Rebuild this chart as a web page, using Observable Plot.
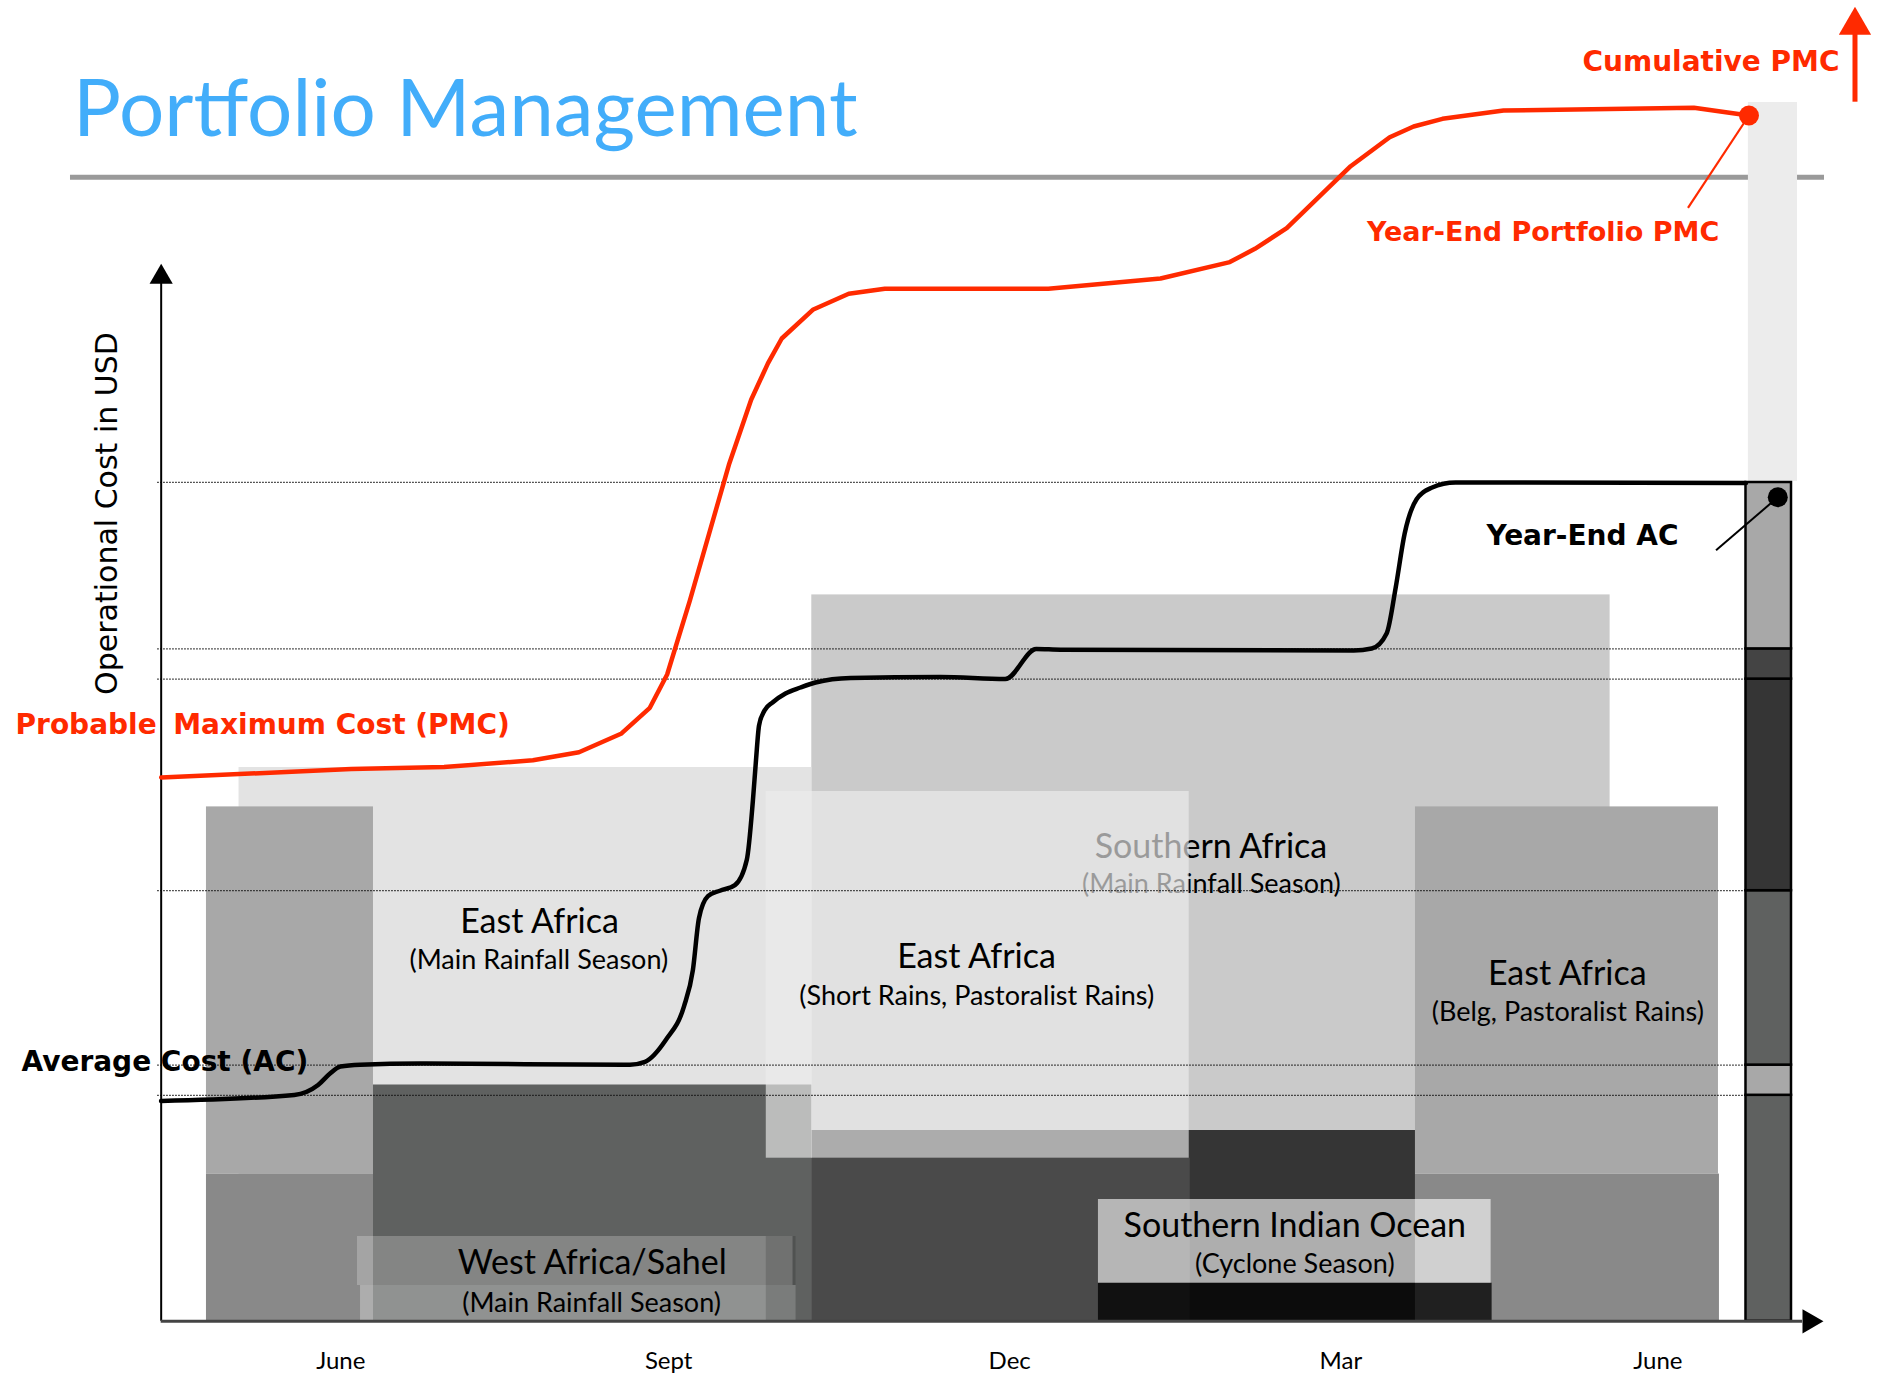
<!DOCTYPE html>
<html><head><meta charset="utf-8">
<script src="https://cdn.jsdelivr.net/npm/d3@7"></script>
<script src="https://cdn.jsdelivr.net/npm/@observablehq/plot@0.6"></script>
<style>
html,body{margin:0;padding:0;background:#fff;}
#wrap{position:relative;width:1879px;height:1377px;overflow:hidden;}
#wrap svg{position:absolute;left:0;top:0;}
#title{position:absolute;left:73px;top:57px;margin:0;font-family:Lato,sans-serif;font-weight:400;font-size:80px;line-height:normal;color:#42adfa;white-space:nowrap;}
</style></head><body>
<div id="wrap"><h1 id="title">Portfolio Management</h1></div>
<script>
// x: months since June (season year), y: operational cost (relative units, axis origin = 0)
const tickMonths = [0, 2.99, 6.1, 9.12, 12.01];
const tickLabels = ["June", "Sept", "Dec", "Mar", "June"];

// Probable Maximum Cost (cumulative)
const pmcMonth = [-1.638, 0.095, 0.942, 1.752, 2.172, 2.555, 2.818, 2.976, 3.183, 3.539, 3.742, 3.895, 4.021, 4.304, 4.632, 4.961, 6.452, 7.475, 8.107, 8.336, 8.626, 9.209, 9.565, 9.783, 10.046, 10.603, 12.339, 12.841];
const pmcCost  = [54.38, 55.22, 55.42, 56.10, 56.91, 58.75, 61.35, 64.68, 72.06, 85.65, 92.15, 95.79, 98.28, 101.15, 102.76, 103.25, 103.25, 104.28, 105.92, 107.25, 109.31, 115.51, 118.41, 119.48, 120.25, 121.08, 121.35, 120.58];

// Average Cost (cumulative)
const acMonth = [-1.639, -0.424, -0.207, -0.098, -0.003, 0.177, 0.724, 2.637, 2.774, 2.965, 3.129, 3.211, 3.266, 3.348, 3.457, 3.594, 3.703, 3.758, 3.786, 3.814, 3.864, 3.937, 4.055, 4.192, 4.329, 4.648, 5.469, 6.059, 6.342, 6.563, 9.237, 9.401, 9.538, 9.620, 9.701, 9.810, 9.947, 10.165, 12.814];
const acCost  = [22.03, 22.64, 23.63, 24.78, 25.48, 25.66, 25.77, 25.66, 25.95, 28.16, 31.47, 35.15, 40.30, 42.51, 43.06, 43.62, 46.19, 52.08, 56.08, 59.58, 61.08, 61.88, 62.78, 63.38, 63.88, 64.33, 64.43, 64.22, 67.23, 67.16, 67.08, 67.28, 68.81, 73.40, 78.76, 82.20, 83.35, 83.88, 83.83];

// AC plateau levels (dotted reference lines)
const acLevels = [83.89, 67.24, 64.22, 43.06, 25.62, 22.60];
const levelSpan = [-1.669, 12.814];

// Seasonal blocks, back to front
const seasonBlocks = [
  {name: "Southern Africa (Main Rainfall Season)", x1: 4.295, x2: 11.575, y1: 19.08, y2: 72.64, tone: "sa"},
  {name: "Southern Africa base", x1: 4.295, x2: 9.800, y1: 0, y2: 19.08, tone: "saBase"},
  {name: "East Africa (Main Rainfall Season)", x1: -0.928, x2: 4.295, y1: 0, y2: 55.38, tone: "eaMain"},
  {name: "East Africa (Belg) early", x1: -1.225, x2: 0.298, y1: 14.72, y2: 51.44, tone: "belg"},
  {name: "East Africa (Belg) early base", x1: -1.225, x2: 0.298, y1: 0, y2: 14.72, tone: "belgBase"},
  {name: "East Africa (Belg) late", x1: 9.800, x2: 12.563, y1: 14.72, y2: 51.44, tone: "belg"},
  {name: "East Africa (Belg) late base", x1: 9.800, x2: 12.572, y1: 0, y2: 14.72, tone: "belgBase"},
  {name: "West Africa/Sahel", x1: 0.298, x2: 4.295, y1: 0, y2: 23.63, tone: "wa"},
  {name: "East Africa short rains base", x1: 4.295, x2: 7.746, y1: 0, y2: 16.31, tone: "srBase"}
];
// Translucent layers drawn over the blocks
const overlayBlocks = [
  {name: "East Africa (Short Rains)", x1: 3.880, x2: 7.737, y1: 16.31, y2: 52.98, tone: "srVeil"},
  {name: "Cyclone band", x1: 6.909, x2: 10.499, y1: 0, y2: 3.81, tone: "cyclone"},
  {name: "Cyclone label", x1: 6.909, x2: 10.490, y1: 3.81, y2: 12.18, tone: "labelBox"},
  {name: "Sahel label top", x1: 0.152, x2: 4.124, y1: 3.58, y2: 8.48, tone: "waBox1"},
  {name: "Sahel label bottom", x1: 0.180, x2: 4.151, y1: 0, y2: 3.58, tone: "waBox2"},
  {name: "Sahel label shade", x1: 3.880, x2: 4.151, y1: 0, y2: 8.48, tone: "shade"}
];

// Year-end stacked AC bar and PMC column
const yearEndX = [12.814, 13.229];
const yearEndSegments = [
  {y1: 0, y2: 22.60, tone: "wa"},
  {y1: 22.60, y2: 25.62, tone: "belg"},
  {y1: 25.62, y2: 43.06, tone: "wa"},
  {y1: 43.06, y2: 64.22, tone: "saBase"},
  {y1: 64.22, y2: 67.24, tone: "dark"},
  {y1: 67.24, y2: 83.88, tone: "belg"}
];
const pmcColumn = [{x1: 12.836, x2: 13.284, y1: 83.99, y2: 121.88}];

const regionTitles = [
  {label: "East Africa", x: 1.812, y: 38.83},
  {label: "West Africa/Sahel", x: 2.293, y: 4.78},
  {label: "East Africa", x: 5.797, y: 35.33},
  {label: "Southern Indian Ocean", x: 8.70, y: 8.40},
  {label: "East Africa", x: 11.184, y: 33.68}
];
const regionSeasons = [
  {label: "(Main Rainfall Season)", x: 1.806, y: 35.22},
  {label: "(Main Rainfall Season)", x: 2.287, y: 0.98},
  {label: "(Short Rains, Pastoralist Rains)", x: 5.799, y: 31.68},
  {label: "(Cyclone Season)", x: 8.70, y: 4.87},
  {label: "(Belg, Pastoralist Rains)", x: 11.189, y: 30.0}
];
const underVeilTitle = [{label: "Southern Africa", x: 7.935, y: 46.38}];
const underVeilSeason = [{label: "(Main Rainfall Season)", x: 7.939, y: 42.88}];

const redNotes = [
  {label: "Probable", x: -2.966, y: 58.78},
  {label: "Maximum Cost (PMC)", x: -1.528, y: 58.78},
  {label: "Cumulative PMC", x: 11.323, y: 125.01}
];
const redNoteSmall = [{label: "Year-End Portfolio PMC", x: 9.357, y: 108.01}];
const blackNotes = [
  {label: "Average Cost (AC)", x: -2.912, y: 25.03},
  {label: "Year-End AC", x: 10.447, y: 77.61}
];

const yearEndPMC = {x: 12.841, y: 120.58, lx: 12.285, ly: 111.35};
const yearEndAC = {x: 13.104, y: 82.40, lx: 12.541, ly: 77.11};

const axisOriginX = -1.638;
const axisTopY = 103.8;
const axisEndX = 13.33;
const cumArrowX = 13.808;
const cumArrowY = [121.91, 128.7];
const headerRuleY = 114.41;
const headerRuleSpan = [-2.465, 13.53];
const yTitle = {label: "Operational Cost in USD", x: -2.045, y: 80.78};

const palette = {
  sa: "#cacaca", saBase: "#353535", eaMain: "#e3e3e3", belg: "#a8a8a8", belgBase: "#898989",
  wa: "#5f6160", srBase: "#4a4a4a", dark: "#444444",
  srVeil: "#ececec", cyclone: "#000000", labelBox: "#ffffff", waBox1: "#ffffff", waBox2: "#ffffff", shade: "#000000"
};
const alpha = {srVeil: 0.65, cyclone: 0.77, labelBox: 0.6, waBox1: 0.23, waBox2: 0.31, shade: 0.15};

const RED = "#ff2a00";
const pmc = pmcMonth.map((m, i) => ({m, c: pmcCost[i]}));
const ac = acMonth.map((m, i) => ({m, c: acCost[i]}));
const boldFont = "DejaVu Sans";

const chart = Plot.plot({
  width: 1879, height: 1377,
  marginTop: 0, marginLeft: 0, marginRight: 0, marginBottom: 56.2,
  x: {domain: [-3.1032, 14.0315], range: [0, 1879]},
  y: {domain: [-5.62, 132.08], range: [1377, 0], axis: null},
  color: {type: "identity"},
  opacity: {type: "identity"},
  style: {background: "white", fontFamily: "Lato", overflow: "visible"},
  marks: [
    Plot.ruleY([headerRuleY], {x1: headerRuleSpan[0], x2: headerRuleSpan[1], stroke: "#9a9a9a", strokeWidth: 5}),
    Plot.rect(pmcColumn, {x1: "x1", x2: "x2", y1: "y1", y2: "y2", fill: "#ececec"}),
    Plot.rect(seasonBlocks, {x1: "x1", x2: "x2", y1: "y1", y2: "y2", fill: d => palette[d.tone]}),
    Plot.text(underVeilTitle, {x: "x", y: "y", text: "label", fontSize: 34, fontFamily: "Lato", lineAnchor: "bottom", fill: "black"}),
    Plot.text(underVeilSeason, {x: "x", y: "y", text: "label", fontSize: 27, fontFamily: "Lato", lineAnchor: "bottom", fill: "black"}),
    Plot.rect(overlayBlocks, {x1: "x1", x2: "x2", y1: "y1", y2: "y2", fill: d => palette[d.tone], fillOpacity: d => alpha[d.tone]}),
    Plot.ruleY(acLevels, {x1: levelSpan[0], x2: levelSpan[1], stroke: "#111", strokeWidth: 1.2, strokeDasharray: "1.4,1.6"}),
    Plot.rect(yearEndSegments, {x1: yearEndX[0], x2: yearEndX[1], y1: "y1", y2: "y2", fill: d => palette[d.tone], stroke: "black", strokeWidth: 2.5}),
    // axes
    Plot.ruleX([axisOriginX], {y1: 0, y2: axisTopY, stroke: "black", strokeWidth: 2}),
    Plot.dot([{x: axisOriginX, y: axisTopY + 0.62}], {x: "x", y: "y", symbol: "triangle", r: 8.6, fill: "black", stroke: null}),
    Plot.ruleY([0], {x1: axisOriginX, x2: axisEndX, stroke: "#444", strokeWidth: 3}),
    Plot.dot([{x: axisEndX + 0.063, y: 0}], {x: "x", y: "y", symbol: "triangle", r: 9, rotate: 90, fill: "black", stroke: null}),
    // region labels
    Plot.text(regionTitles, {x: "x", y: "y", text: "label", fontSize: 34, fontFamily: "Lato", lineAnchor: "bottom", fill: "black"}),
    Plot.text(regionSeasons, {x: "x", y: "y", text: "label", fontSize: 27, fontFamily: "Lato", lineAnchor: "bottom", fill: "black"}),
    // curves
    Plot.line(pmc, {x: "m", y: "c", stroke: RED, strokeWidth: 4.5, curve: "linear"}),
    Plot.line(ac, {x: "m", y: "c", stroke: "black", strokeWidth: 4.5, curve: "monotone-x"}),
    // leaders and year-end markers
    Plot.link([yearEndPMC], {x1: "x", y1: "y", x2: "lx", y2: "ly", stroke: RED, strokeWidth: 2.2}),
    Plot.link([yearEndAC], {x1: "x", y1: "y", x2: "lx", y2: "ly", stroke: "black", strokeWidth: 2}),
    Plot.dot([yearEndPMC], {x: "x", y: "y", r: 10, fill: RED, stroke: null}),
    Plot.dot([yearEndAC], {x: "x", y: "y", r: 10, fill: "black", stroke: null}),
    // annotations
    Plot.text(redNotes, {x: "x", y: "y", text: "label", textAnchor: "start", lineAnchor: "bottom", fontSize: 28, fontWeight: "bold", fontFamily: boldFont, fill: RED}),
    Plot.text(redNoteSmall, {x: "x", y: "y", text: "label", textAnchor: "start", lineAnchor: "bottom", fontSize: 27, fontWeight: "bold", fontFamily: boldFont, fill: RED}),
    Plot.text(blackNotes, {x: "x", y: "y", text: "label", textAnchor: "start", lineAnchor: "bottom", fontSize: 28, fontWeight: "bold", fontFamily: boldFont, fill: "black"}),
    // cumulative arrow
    Plot.ruleX([cumArrowX], {y1: cumArrowY[0], y2: cumArrowY[1], stroke: RED, strokeWidth: 5}),
    Plot.dot([{x: cumArrowX, y: cumArrowY[1] + 0.9}], {x: "x", y: "y", symbol: "triangle", r: 12, fill: RED, stroke: null}),
    // y title
    Plot.text([yTitle], {x: "x", y: "y", text: "label", rotate: -90, lineAnchor: "bottom", fontSize: 30, fontFamily: "DejaVu Sans", fill: "black"}),
    // x ticks
    Plot.axisX(tickMonths, {tickFormat: (d, i) => tickLabels[i], tickSize: 0, tickPadding: 31, fontSize: 24, fontFamily: "Lato", fill: "black", label: null})
  ]
});
document.getElementById("wrap").prepend(chart);
</script>
</body></html>
